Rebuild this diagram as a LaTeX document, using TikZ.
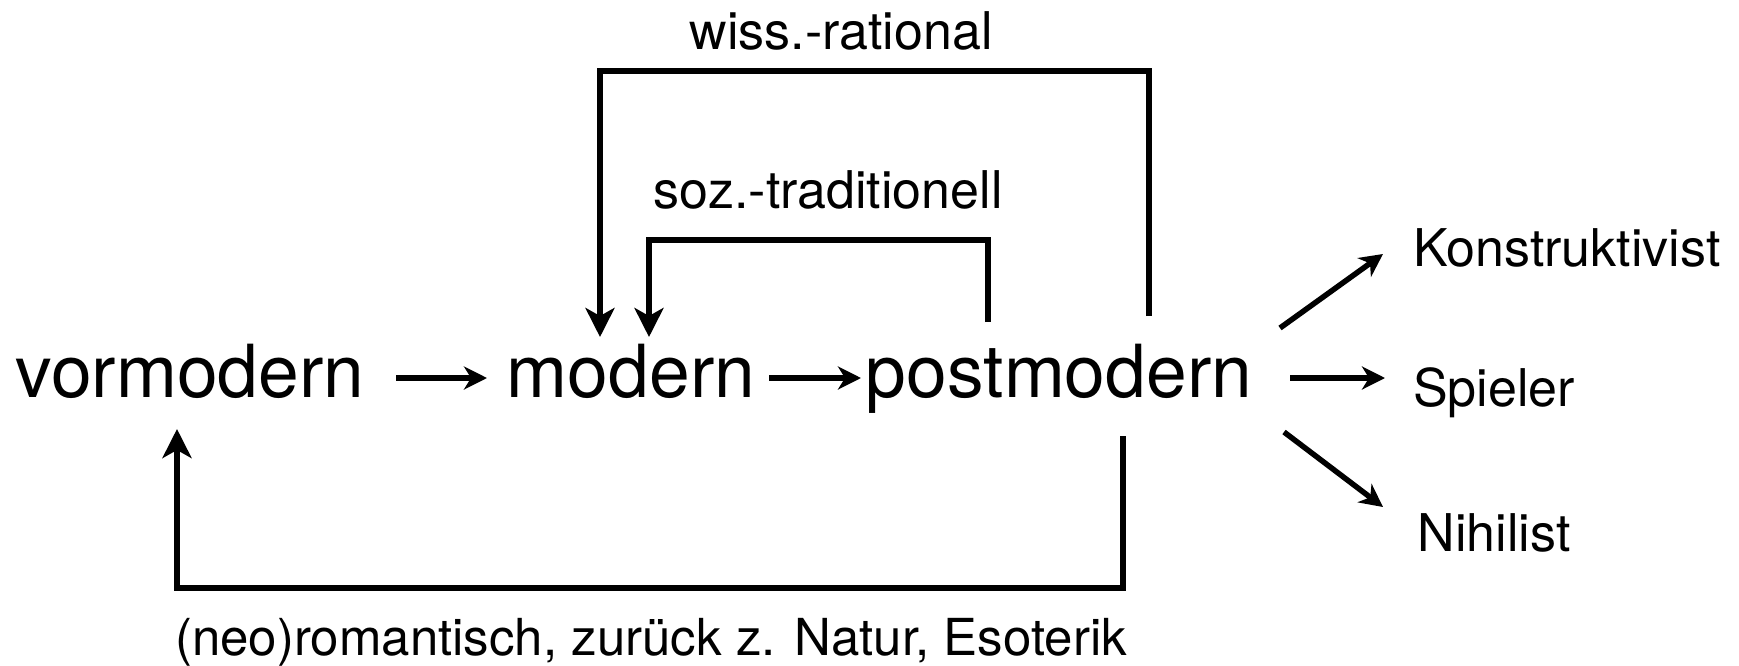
\documentclass[tikz,border=0pt]{standalone}
\usepackage{fontspec}
\setmainfont{TeX Gyre Heros}
\usetikzlibrary{arrows.meta}
\begin{document}
\begin{tikzpicture}[x=1pt,y=-1pt,
  big/.style={inner sep=0pt, anchor=base, font=\fontsize{73.2}{86}\selectfont},
  small/.style={inner sep=0pt, anchor=base, font=\fontsize{52}{62}\selectfont},
  arr/.style={line width=5.5pt, line join=miter, -{Stealth[length=23pt,width=23pt,inset=7pt]}},
  looparr/.style={line width=6.5pt, line join=miter, -{Stealth[length=29pt,width=29pt,inset=8pt]}}]
\useasboundingbox (0,0) rectangle (1739,666);
% main nodes
\node[big] (vor) at (190,397) {vormodern};
\node[big] (mod) at (631,397) {modern};
\node[big] (post) at (1059,397) {postmodern};
\node[small] (kon) at (1567,266) {Konstruktivist};
\node[small] (spi) at (1494,406) {Spieler};
\node[small] (nih) at (1494,551) {Nihilist};
\node[small] (wiss) at (841,50) {wiss.-rational};
\node[small] (soz) at (828,208) {soz.-traditionell};
\node[small, font=\fontsize{51}{60}\selectfont] (neo) at (651,655) {(neo)romantisch, zurück z. Natur, Esoterik};
% connector end points
\coordinate (a1s) at (396,378); \coordinate (a1e) at (487,378);
\coordinate (a2s) at (769,378); \coordinate (a2e) at (861,378);
\coordinate (ks) at (1280,328); \coordinate (ke) at (1383,254);
\coordinate (ss) at (1290,378); \coordinate (se) at (1385,378);
\coordinate (ns) at (1284,432); \coordinate (ne) at (1383,507);
\coordinate (ws) at (1149,316); \coordinate (wt) at (1149,71);
\coordinate (wl) at (600,71);   \coordinate (we) at (600,337);
\coordinate (zs) at (988,322);  \coordinate (zt) at (988,240);
\coordinate (zl) at (649,240);  \coordinate (ze) at (649,337);
\coordinate (bs) at (1123,436); \coordinate (bb) at (1123,588);
\coordinate (bl) at (177,588);  \coordinate (be) at (177,429);
% connectors
\draw[arr] (a1s) -- (a1e);
\draw[arr] (a2s) -- (a2e);
\draw[arr] (ks) -- (ke);
\draw[arr] (ss) -- (se);
\draw[arr] (ns) -- (ne);
\draw[looparr] (ws) -- (wt) -- (wl) -- (we);
\draw[looparr] (zs) -- (zt) -- (zl) -- (ze);
\draw[looparr] (bs) -- (bb) -- (bl) -- (be);
\end{tikzpicture}
\end{document}
